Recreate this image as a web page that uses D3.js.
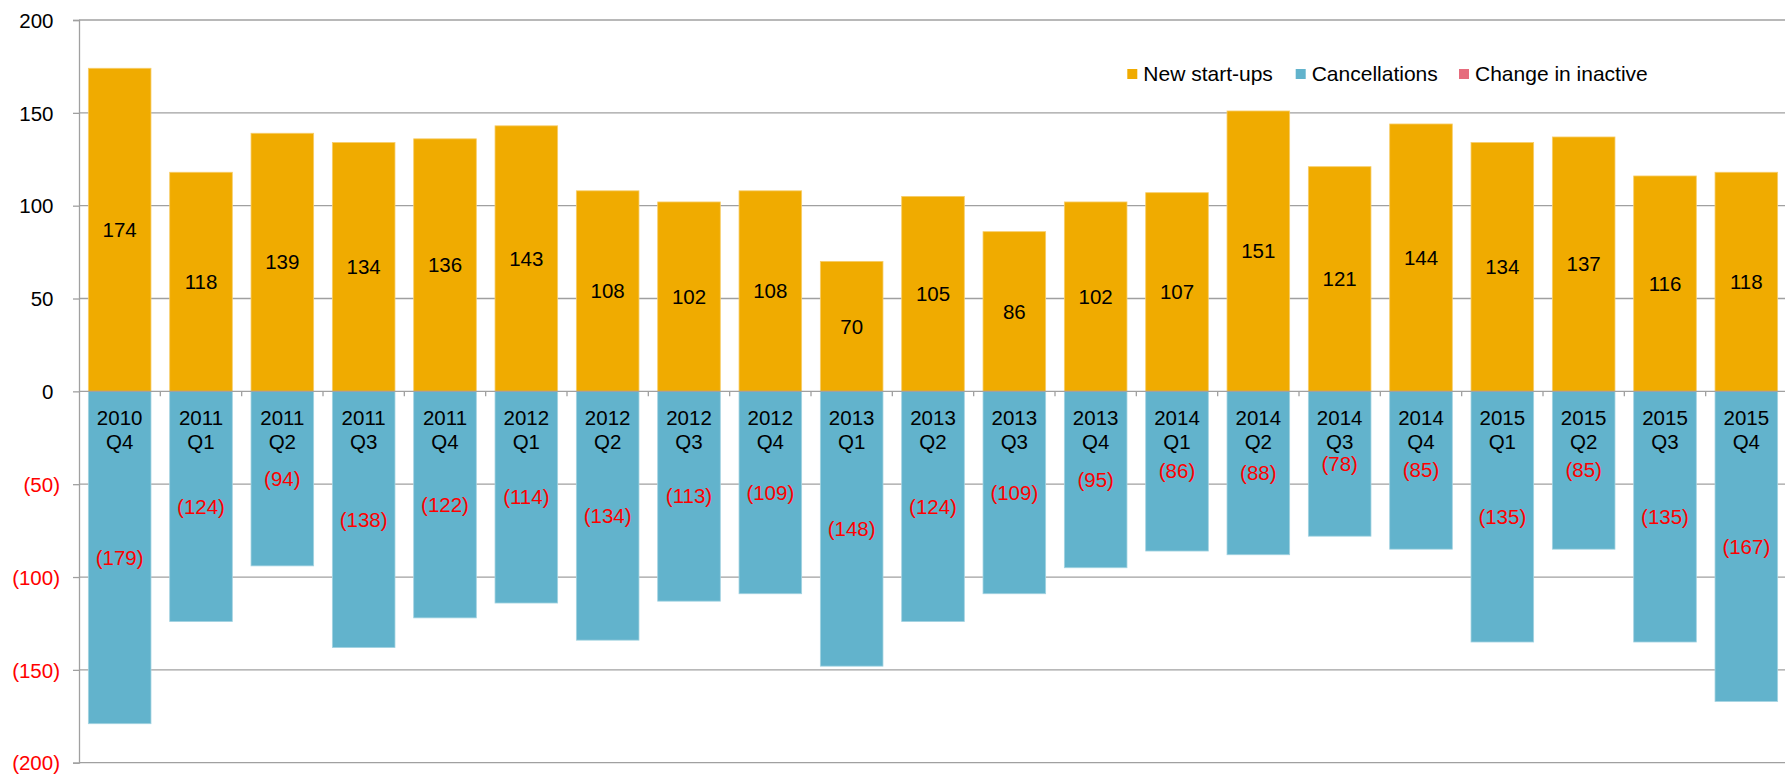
<!DOCTYPE html>
<html>
<head>
<meta charset="utf-8">
<script src="https://cdn.jsdelivr.net/npm/d3@7/dist/d3.min.js"></script>
<style>
  html, body { margin: 0; padding: 0; background: #fff; }
  svg { display: block; font-family: "Liberation Sans", Arial, sans-serif; }
</style>
</head>
<body>
<svg id="chart" width="1785" height="774"></svg>
<script>
// Quarterly business counts
const years = ["2010","2011","2011","2011","2011","2012","2012","2012","2012","2013","2013","2013","2013","2014","2014","2014","2014","2015","2015","2015","2015"];
const quarters = ["Q4","Q1","Q2","Q3","Q4","Q1","Q2","Q3","Q4","Q1","Q2","Q3","Q4","Q1","Q2","Q3","Q4","Q1","Q2","Q3","Q4"];
const newStartups = [174,118,139,134,136,143,108,102,108,70,105,86,102,107,151,121,144,134,137,116,118];
const cancellations = [-179,-124,-94,-138,-122,-114,-134,-113,-109,-148,-124,-109,-95,-86,-88,-78,-85,-135,-85,-135,-167];
const yTicks = [-200,-150,-100,-50,0,50,100,150,200];
const seriesNames = ["New start-ups","Cancellations","Change in inactive"];
const seriesColors = ["#F0AB00","#62B3CC","#E66C7D"];

const categories = years.map((yr, i) => yr + " " + quarters[i]);

const svg = d3.select("#chart");
const plotLeft = 79, plotRight = 1787, plotTop = 20, plotBottom = 762.7;
const gridColor = "#a0a0a0";

const x = d3.scaleBand().domain(categories).range([plotLeft, plotRight]).paddingInner(0.23).paddingOuter(0.115);
const y = d3.scaleLinear().domain([-200, 200]).range([plotBottom, plotTop]);

const fmt = v => v < 0 ? "(" + d3.format(",")(-v) + ")" : d3.format(",")(v);

// horizontal gridlines
svg.append("g").selectAll("line").data(yTicks.filter(t => t !== 0)).join("line")
  .attr("x1", plotLeft).attr("x2", 1785)
  .attr("y1", d => y(d)).attr("y2", d => y(d))
  .attr("stroke", gridColor).attr("stroke-width", 1.3);

// y axis with labels
const yAxis = svg.append("g").attr("transform", `translate(${plotLeft},0)`)
  .call(d3.axisLeft(y).tickValues(yTicks).tickSize(6).tickFormat(fmt));
yAxis.select(".domain").attr("stroke", gridColor).attr("stroke-width", 1.3);
yAxis.selectAll(".tick line").attr("stroke", gridColor).attr("stroke-width", 1.3);
yAxis.selectAll(".tick text")
  .attr("font-size", 20.5)
  .attr("font-family", "Liberation Sans, Arial, sans-serif")
  .attr("fill", d => d < 0 ? "#FF0000" : "#000")
  .attr("x", d => d < 0 ? -19 : -25.5)
  .attr("dy", "0.35em");

// bars
const bars = svg.append("g");
bars.selectAll("rect.pos").data(newStartups).join("rect")
  .attr("class", "pos")
  .attr("x", (d, i) => x(categories[i]))
  .attr("width", x.bandwidth())
  .attr("y", d => y(d))
  .attr("height", d => y(0) - y(d))
  .attr("fill", seriesColors[0])
  .attr("stroke", "#F7CD6A").attr("stroke-width", 0.8);
bars.selectAll("rect.neg").data(cancellations).join("rect")
  .attr("class", "neg")
  .attr("x", (d, i) => x(categories[i]))
  .attr("width", x.bandwidth())
  .attr("y", y(0))
  .attr("height", d => y(d) - y(0))
  .attr("fill", seriesColors[1])
  .attr("stroke", "#A3D3E1").attr("stroke-width", 0.8);

// zero axis with category ticks
const xAxis = svg.append("g").attr("transform", `translate(0,${y(0)})`);
xAxis.append("line").attr("x1", plotLeft).attr("x2", 1785).attr("y1", 0).attr("y2", 0)
  .attr("stroke", gridColor).attr("stroke-width", 1.3);
xAxis.selectAll("line.cat").data(categories.slice(1)).join("line")
  .attr("class", "cat")
  .attr("x1", d => x(d) - x.step() * x.paddingInner() / 2)
  .attr("x2", d => x(d) - x.step() * x.paddingInner() / 2)
  .attr("y1", 0).attr("y2", 5)
  .attr("stroke", gridColor).attr("stroke-width", 1.3);

// category labels inside the lower bars
const catLabels = svg.append("g").attr("font-size", 20.5).attr("text-anchor", "middle").attr("fill", "#000");
catLabels.selectAll("text").data(categories).join("text")
  .attr("x", d => x(d) + x.bandwidth() / 2)
  .attr("y", y(0) + 34)
  .each(function(d, i) {
    const t = d3.select(this);
    t.append("tspan").attr("x", x(d) + x.bandwidth() / 2).text(years[i]);
    t.append("tspan").attr("x", x(d) + x.bandwidth() / 2).attr("dy", 24).text(quarters[i]);
  });

// value labels
const valLabels = svg.append("g").attr("font-size", 20.5).attr("text-anchor", "middle");
valLabels.selectAll("text.pos").data(newStartups).join("text")
  .attr("class", "pos")
  .attr("x", (d, i) => x(categories[i]) + x.bandwidth() / 2)
  .attr("y", d => (y(d) + y(0)) / 2)
  .attr("dy", "0.35em")
  .attr("fill", "#000")
  .text(fmt);
valLabels.selectAll("text.neg").data(cancellations).join("text")
  .attr("class", "neg")
  .attr("x", (d, i) => x(categories[i]) + x.bandwidth() / 2)
  .attr("y", d => (y(d) + y(0)) / 2)
  .attr("dy", "0.35em")
  .attr("fill", "#FF0000")
  .text(fmt);

// legend
const legendX = [1127.3, 1295.7, 1459];
const legend = svg.append("g");
seriesNames.forEach((name, i) => {
  legend.append("rect")
    .attr("x", legendX[i]).attr("y", 69)
    .attr("width", 10).attr("height", 10)
    .attr("fill", seriesColors[i]);
  legend.append("text")
    .attr("x", legendX[i] + 16).attr("y", 81)
    .attr("font-size", 21)
    .attr("fill", "#000")
    .text(name);
});
</script>
</body>
</html>
